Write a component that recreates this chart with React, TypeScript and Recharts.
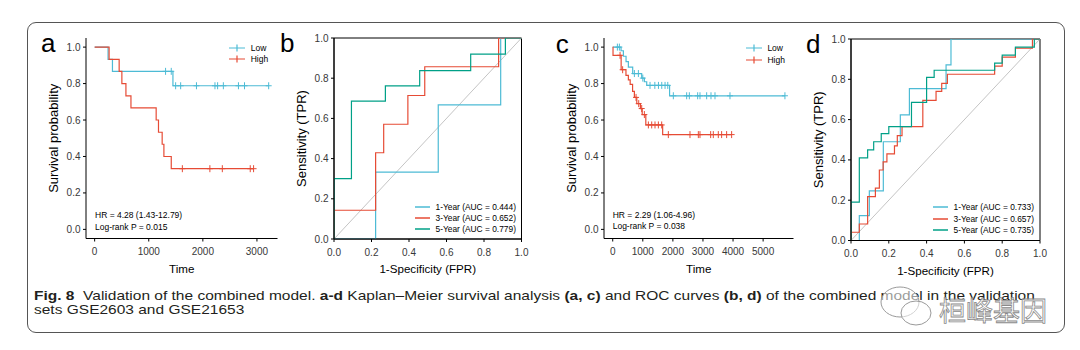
import React from 'react'
import { ComposedChart, Line, Scatter, XAxis, YAxis, ReferenceLine, ReferenceArea, Legend } from 'recharts'

const FONT = '"Liberation Sans", Arial, sans-serif'
const CYAN = '#4DBBD5'
const RED = '#E64B35'
const TEAL = '#00A087'

// ---- panel a: KM, GSE2603 ----
const aLowTime = [0, 248, 329, 1447]
const aLowSurv = [1, 0.933, 0.867, 0.788]
const aLowCensor = [1311, 1416, 1497, 1590, 1882, 2224, 2273, 2379, 2658, 2770, 3217]
const aHighTime = [0, 267, 453, 503, 578, 671, 1137, 1180, 1248, 1280, 1416]
const aHighSurv = [1, 0.933, 0.867, 0.8, 0.733, 0.667, 0.6, 0.533, 0.467, 0.4, 0.333]
const aHighCensor = [1621, 2130, 2360, 2876, 2938]
const aTicks = [0, 1000, 2000, 3000]
const aStats = ['HR = 4.28 (1.43-12.79)', 'Log-rank P = 0.015']

// ---- panel c: KM, GSE21653 ----
const cLowTime = [0, 277, 354, 443, 520, 664, 963, 1052, 1130, 1890]
const cLowSurv = [1, 0.98, 0.95, 0.92, 0.89, 0.855, 0.83, 0.81, 0.79, 0.733]
const cLowCensor = [155, 221, 720, 853, 1000, 1240, 1400, 1520, 1630, 1740, 1830, 2015, 2458, 2547, 2824, 2901, 3123, 3267, 3400, 3898, 5725]
const cHighTime = [0, 10, 280, 440, 520, 580, 660, 720, 800, 920, 980, 1100, 1660]
const cHighSurv = [1, 0.955, 0.876, 0.845, 0.82, 0.796, 0.757, 0.724, 0.69, 0.663, 0.63, 0.573, 0.52]
const cHighCensor = [244, 330, 775, 864, 963, 1052, 1185, 1296, 1406, 1517, 1628, 1849, 2569, 2846, 2901, 3256, 3344, 3510, 3621, 3787, 3953]
const cTicks = [0, 1000, 2000, 3000, 4000, 5000]
const cStats = ['HR = 2.29 (1.06-4.96)', 'Log-rank P = 0.038']

// ---- panel b: ROC, GSE2603 ----
const bFpr1 = [0, 0.222, 0.556, 0.889, 1]
const bTpr1 = [0, 0.333, 0.667, 1, 1]
const bFpr3 = [0, 0, 0.222, 0.265, 0.394, 0.484, 0.878, 1]
const bTpr3 = [0, 0.143, 0.429, 0.571, 0.714, 0.857, 1, 1]
const bFpr5 = [0, 0, 0.093, 0.274, 0.457, 0.729, 0.914, 1]
const bTpr5 = [0, 0.3, 0.686, 0.762, 0.838, 0.92, 1, 1]
const bAuc = ['0.444', '0.652', '0.779']

// ---- panel d: ROC, GSE21653 ----
const dFpr1 = [0, 0.044, 0.097, 0.171, 0.261, 0.309, 0.503, 0.529, 1]
const dTpr1 = [0, 0.123, 0.246, 0.49, 0.623, 0.754, 0.872, 1, 1]
const dFpr3 = [0, 0, 0.044, 0.088, 0.129, 0.15, 0.17, 0.19, 0.23, 0.245, 0.27, 0.38, 0.45, 0.48, 0.51, 0.76, 0.8, 0.87, 0.96, 1]
const dTpr3 = [0, 0.041, 0.082, 0.218, 0.26, 0.35, 0.39, 0.43, 0.47, 0.52, 0.565, 0.695, 0.74, 0.78, 0.825, 0.865, 0.91, 0.955, 1, 1]
const dFpr5 = [0, 0, 0.044, 0.088, 0.12, 0.16, 0.2, 0.32, 0.4, 0.44, 0.76, 0.8, 0.87, 0.97, 1]
const dTpr5 = [0, 0.19, 0.41, 0.45, 0.49, 0.53, 0.565, 0.685, 0.81, 0.845, 0.88, 0.92, 0.96, 1, 1]
const dAuc = ['0.733', '0.657', '0.735']

const groups = ['Low', 'High']
const groupColors = [CYAN, RED]
const years = ['1-Year', '3-Year', '5-Year']
const yearColors = [CYAN, RED, TEAL]
const survTicks = [0, 0.2, 0.4, 0.6, 0.8, 1]
const rocTicks = [0, 0.2, 0.4, 0.6, 0.8, 1]

type Pt = { x: number; y: number }

const stepLine = (time: number[], surv: number[], censor: number[]): Pt[] => {
  const pts = time.map((t, i) => ({ x: t, y: surv[i] }))
  const end = Math.max(...censor)
  if (end > time[time.length - 1]) pts.push({ x: end, y: surv[surv.length - 1] })
  return pts
}
const censorPts = (time: number[], surv: number[], censor: number[]): Pt[] =>
  censor.map(t => {
    let i = 0
    while (i + 1 < time.length && time[i + 1] <= t) i++
    return { x: t, y: surv[i] }
  })
const rocPts = (fpr: number[], tpr: number[]): Pt[] => fpr.map((f, i) => ({ x: f, y: tpr[i] }))

// layout
const M = { top: 10, right: 8, left: 0, bottom: 0 }
const YW = 50
const XH = 40
const TICK = { fontSize: 10, fill: '#383838', fontFamily: FONT }
const AX = { stroke: '#000', strokeWidth: 1 }
const fmt = (v: number) => v.toFixed(1)

const yTitle = (value: string) => (p: any) => {
  const vb = p.viewBox
  const cx = vb.x + 17
  const cy = vb.y + vb.height / 2
  return (
    <text x={cx} y={cy} transform={`rotate(-90 ${cx} ${cy})`} textAnchor="middle" dominantBaseline="central"
      fontSize={13} fontFamily={FONT} fill="#000">{value}</text>
  )
}
const xTitle = (value: string) => (p: any) => {
  const vb = p.viewBox
  return (
    <text x={vb.x + vb.width / 2} y={vb.y + 29.5} textAnchor="middle" dominantBaseline="central"
      fontSize={11.6} fontFamily={FONT} fill="#000">{value}</text>
  )
}

const plus = (color: string) => (p: any) => (
  <path d={`M${p.cx - 3},${p.cy}H${p.cx + 3}M${p.cx},${p.cy - 3.5}V${p.cy + 3.5}`} stroke={color} strokeWidth={1} fill="none" />
)

const KmKey = () => (
  <div style={{ fontFamily: FONT, fontSize: 8.5, color: '#000' }}>
    {groups.map((g, i) => (
      <div key={g} style={{ display: 'flex', alignItems: 'center', height: 11.5 }}>
        <svg width={16} height={8} style={{ display: 'block' }}>
          <path d="M0,4H16M8,0.5V7.5" stroke={groupColors[i]} strokeWidth={1.2} fill="none" />
        </svg>
        <span style={{ marginLeft: 5.7, whiteSpace: 'nowrap' }}>{g}</span>
      </div>
    ))}
  </div>
)

const RocKey = ({ auc }: { auc: string[] }) => (
  <div style={{ fontFamily: FONT, fontSize: 8.4, color: '#000' }}>
    {years.map((y, i) => (
      <div key={y} style={{ display: 'flex', alignItems: 'center', height: 11.2 }}>
        <svg width={15} height={4} style={{ display: 'block' }}>
          <line x1={0} x2={15} y1={2} y2={2} stroke={yearColors[i]} strokeWidth={1.5} />
        </svg>
        <span style={{ marginLeft: 5.5, whiteSpace: 'nowrap' }}>{`${y} (AUC = ${auc[i]})`}</span>
      </div>
    ))}
  </div>
)

type Plot = { l: number; t: number; w: number; h: number }
const frame = (p: Plot) => ({
  left: p.l - YW - M.left,
  top: p.t - M.top,
  width: p.w + YW + M.left + M.right,
  height: p.h + M.top + XH + M.bottom,
})

function KmPanel({ plot, xDomain, xTicks, lines, cens, key0 }: {
  plot: Plot; xDomain: number[]; xTicks: number[]; lines: Pt[][]; cens: Pt[][]; key0: { x: number; y: number }
}) {
  const f = frame(plot)
  return (
    <div style={{ position: 'absolute', left: f.left, top: f.top }}>
      <ComposedChart width={f.width} height={f.height} margin={M}>
        <XAxis type="number" dataKey="x" domain={xDomain} ticks={xTicks} allowDataOverflow interval={0}
          height={XH} tickSize={3} tickMargin={6.5} tick={TICK} axisLine={AX} tickLine={AX} label={xTitle('Time')} />
        <YAxis type="number" domain={[-0.05, 1.05]} ticks={survTicks} allowDataOverflow interval={0}
          width={YW} tickSize={3} tickMargin={2.5} tick={TICK} tickFormatter={fmt} axisLine={AX} tickLine={AX}
          label={yTitle('Survival probability')} />
        {lines.map((d, i) => (
          <Line key={`l${i}`} data={d} dataKey="y" type="stepAfter" stroke={groupColors[i]} strokeWidth={1.2}
            dot={false} activeDot={false} isAnimationActive={false} />
        ))}
        {cens.map((d, i) => (
          <Scatter key={`c${i}`} data={d} dataKey="y" fill={groupColors[i]} shape={plus(groupColors[i])} isAnimationActive={false} />
        ))}
        <Legend layout="vertical" align="center" verticalAlign="middle"
          wrapperStyle={{ left: key0.x - f.left, top: key0.y - f.top, width: 'auto', height: 'auto' }} content={() => <KmKey />} />
      </ComposedChart>
    </div>
  )
}

function RocPanel({ plot, curves, auc, key0 }: {
  plot: Plot; curves: Pt[][]; auc: string[]; key0: { x: number; y: number }
}) {
  const f = frame(plot)
  return (
    <div style={{ position: 'absolute', left: f.left, top: f.top }}>
      <ComposedChart width={f.width} height={f.height} margin={M}>
        <XAxis type="number" dataKey="x" domain={[0, 1]} ticks={rocTicks} allowDataOverflow interval={0}
          height={XH} tickSize={3} tickMargin={6.5} tick={TICK} tickFormatter={fmt} axisLine={AX} tickLine={AX}
          label={xTitle('1-Specificity (FPR)')} />
        <YAxis type="number" domain={[0, 1]} ticks={rocTicks} allowDataOverflow interval={0}
          width={YW} tickSize={3} tickMargin={2.5} tick={TICK} tickFormatter={fmt} axisLine={AX} tickLine={AX}
          label={yTitle('Sensitivity (TPR)')} />
        <ReferenceLine segment={[{ x: 0, y: 0 }, { x: 1, y: 1 }]} stroke="#c4c4c4" strokeWidth={1} />
        {curves.map((d, i) => (
          <Line key={`r${i}`} data={d} dataKey="y" type="stepAfter" stroke={yearColors[i]} strokeWidth={1.2}
            dot={false} activeDot={false} isAnimationActive={false} />
        ))}
        <ReferenceArea x1={0} x2={1} y1={0} y2={1} fill="none" fillOpacity={0} stroke="#000" strokeWidth={1} />
        <Legend layout="vertical" align="center" verticalAlign="middle"
          wrapperStyle={{ left: key0.x - f.left, top: key0.y - f.top, width: 'auto', height: 'auto' }} content={() => <RocKey auc={auc} />} />
      </ComposedChart>
    </div>
  )
}

const Stats = ({ left, top, lines }: { left: number; top: number; lines: string[] }) => (
  <div style={{ position: 'absolute', left, top, fontFamily: FONT, fontSize: 8.5, lineHeight: '11.6px', color: '#000', whiteSpace: 'nowrap' }}>
    {lines.map(s => <div key={s}>{s}</div>)}
  </div>
)

const letter = (ch: string, left: number, top: number) => (
  <div style={{ position: 'absolute', left, top, fontFamily: FONT, fontSize: 26, lineHeight: '26px', color: '#000' }}>{ch}</div>
)

export default function App() {
  return (
    <div style={{ position: 'absolute', left: 0, top: 0, width: 1080, height: 350, background: '#fff', overflow: 'hidden' }}>
      <div style={{ position: 'absolute', left: 26.5, top: 21.5, width: 1038.5, height: 311.5, border: '1px solid #555', borderRadius: 9, boxSizing: 'border-box' }} />

      <KmPanel plot={{ l: 86.2, t: 37.6, w: 191.5, h: 200.5 }} xDomain={[-160, 3380]} xTicks={aTicks}
        lines={[stepLine(aLowTime, aLowSurv, aLowCensor), stepLine(aHighTime, aHighSurv, aHighCensor)]}
        cens={[censorPts(aLowTime, aLowSurv, aLowCensor), censorPts(aHighTime, aHighSurv, aHighCensor)]}
        key0={{ x: 229, y: 41.9 }} />
      <RocPanel plot={{ l: 333.5, t: 38, w: 187.5, h: 201 }} auc={bAuc}
        curves={[rocPts(bFpr1, bTpr1), rocPts(bFpr3, bTpr3), rocPts(bFpr5, bTpr5)]}
        key0={{ x: 415, y: 201.3 }} />
      <KmPanel plot={{ l: 604.1, t: 37.6, w: 189.5, h: 200.5 }} xDomain={[-290, 6010]} xTicks={cTicks}
        lines={[stepLine(cLowTime, cLowSurv, cLowCensor), stepLine(cHighTime, cHighSurv, cHighCensor)]}
        cens={[censorPts(cLowTime, cLowSurv, cLowCensor), censorPts(cHighTime, cHighSurv, cHighCensor)]}
        key0={{ x: 745.7, y: 42.5 }} />
      <RocPanel plot={{ l: 851, t: 38.5, w: 189, h: 201.5 }} auc={dAuc}
        curves={[rocPts(dFpr1, dTpr1), rocPts(dFpr3, dTpr3), rocPts(dFpr5, dTpr5)]}
        key0={{ x: 933, y: 201.9 }} />

      <Stats left={95} top={210} lines={aStats} />
      <Stats left={612.7} top={209.5} lines={cStats} />

      {letter('a', 41, 29.7)}
      {letter('b', 280, 29.7)}
      {letter('c', 555.7, 31)}
      {letter('d', 806, 31)}

      <div style={{
        position: 'absolute', left: 34, top: 288.6, fontFamily: FONT, fontSize: 15.5, lineHeight: '15.4px', color: '#231f20',
        whiteSpace: 'nowrap', transform: 'scaleY(0.88)', transformOrigin: '0 0',
      }}>
        <b>Fig. 8</b>&nbsp; Validation of the combined model. <b>a-d</b> Kaplan–Meier survival analysis <b>(a, c)</b> and ROC curves <b>(b, d)</b> of the combined model in the validation
        <br />sets GSE2603 and GSE21653
      </div>

      <svg style={{ position: 'absolute', left: 875, top: 285 }} width={175} height={48}>
        <ellipse cx={25} cy={17} rx={19} ry={15} fill="rgba(255,255,255,0.55)" stroke="#9a9a9a" strokeWidth={1} />
        <ellipse cx={41} cy={28} rx={15} ry={12} fill="rgba(255,255,255,0.55)" stroke="#9a9a9a" strokeWidth={1} />
        <text x={64} y={36} fontSize={27} fontFamily='"Noto Sans CJK SC", sans-serif' fill="rgba(255,255,255,0.6)" stroke="#8a8a8a" strokeWidth={0.8}>桓峰基因</text>
      </svg>
    </div>
  )
}
